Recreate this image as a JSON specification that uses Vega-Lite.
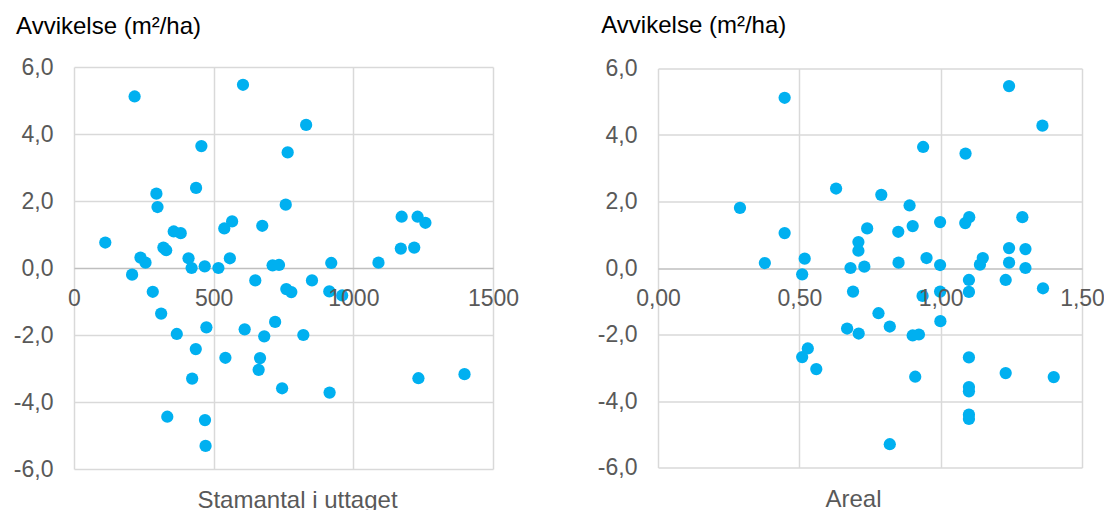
{
  "$schema": "https://vega.github.io/schema/vega-lite/v6.json",
  "padding": {"left": 13, "top": 13, "right": 0, "bottom": 0},
  "bounds": "flush",
  "center": true,
  "spacing": 165,
  "config": {
    "view": {"stroke": null},
    "font": "Liberation Sans",
    "axis": {
      "labelFont": "Liberation Sans",
      "titleFont": "Liberation Sans",
      "labelColor": "#595959",
      "labelFontSize": 23,
      "titleFontSize": 24,
      "titleFontWeight": "normal",
      "gridColor": "#d9d9d9",
      "gridWidth": 1.5,
      "ticks": false,
      "tickSize": 0,
      "domain": false,
      "labelFlush": false,
      "labelOverlap": false
    }
  },
  "datasets": {
    "stam": [
      {"stamantal": 217, "avvikelse": 5.12}, {"stamantal": 605, "avvikelse": 5.47}, {"stamantal": 831, "avvikelse": 4.27},
      {"stamantal": 456, "avvikelse": 3.64}, {"stamantal": 765, "avvikelse": 3.45}, {"stamantal": 437, "avvikelse": 2.39},
      {"stamantal": 295, "avvikelse": 2.22}, {"stamantal": 299, "avvikelse": 1.82}, {"stamantal": 758, "avvikelse": 1.89},
      {"stamantal": 1173, "avvikelse": 1.53}, {"stamantal": 1230, "avvikelse": 1.53}, {"stamantal": 1258, "avvikelse": 1.35},
      {"stamantal": 566, "avvikelse": 1.39}, {"stamantal": 538, "avvikelse": 1.18}, {"stamantal": 674, "avvikelse": 1.26},
      {"stamantal": 357, "avvikelse": 1.09}, {"stamantal": 382, "avvikelse": 1.04}, {"stamantal": 112, "avvikelse": 0.76},
      {"stamantal": 320, "avvikelse": 0.61}, {"stamantal": 330, "avvikelse": 0.53}, {"stamantal": 1170, "avvikelse": 0.58},
      {"stamantal": 1218, "avvikelse": 0.61}, {"stamantal": 238, "avvikelse": 0.31}, {"stamantal": 256, "avvikelse": 0.16},
      {"stamantal": 410, "avvikelse": 0.29}, {"stamantal": 558, "avvikelse": 0.29}, {"stamantal": 421, "avvikelse": 0.0},
      {"stamantal": 468, "avvikelse": 0.05}, {"stamantal": 517, "avvikelse": 0.0}, {"stamantal": 711, "avvikelse": 0.08},
      {"stamantal": 734, "avvikelse": 0.09}, {"stamantal": 921, "avvikelse": 0.15}, {"stamantal": 1090, "avvikelse": 0.16},
      {"stamantal": 208, "avvikelse": -0.2}, {"stamantal": 649, "avvikelse": -0.37}, {"stamantal": 852, "avvikelse": -0.37},
      {"stamantal": 282, "avvikelse": -0.71}, {"stamantal": 760, "avvikelse": -0.63}, {"stamantal": 778, "avvikelse": -0.72},
      {"stamantal": 914, "avvikelse": -0.7}, {"stamantal": 960, "avvikelse": -0.82}, {"stamantal": 312, "avvikelse": -1.36},
      {"stamantal": 368, "avvikelse": -1.97}, {"stamantal": 474, "avvikelse": -1.77}, {"stamantal": 611, "avvikelse": -1.83},
      {"stamantal": 720, "avvikelse": -1.61}, {"stamantal": 681, "avvikelse": -2.04}, {"stamantal": 821, "avvikelse": -2.0},
      {"stamantal": 436, "avvikelse": -2.42}, {"stamantal": 542, "avvikelse": -2.68}, {"stamantal": 666, "avvikelse": -2.69},
      {"stamantal": 661, "avvikelse": -3.04}, {"stamantal": 423, "avvikelse": -3.3}, {"stamantal": 745, "avvikelse": -3.59},
      {"stamantal": 915, "avvikelse": -3.72}, {"stamantal": 1233, "avvikelse": -3.29}, {"stamantal": 1398, "avvikelse": -3.17},
      {"stamantal": 334, "avvikelse": -4.44}, {"stamantal": 469, "avvikelse": -4.54}, {"stamantal": 471, "avvikelse": -5.31}
    ],
    "areal": [
      {"areal": 0.448, "avvikelse": 5.12}, {"areal": 1.242, "avvikelse": 5.47}, {"areal": 1.36, "avvikelse": 4.28},
      {"areal": 0.938, "avvikelse": 3.64}, {"areal": 1.088, "avvikelse": 3.44}, {"areal": 0.63, "avvikelse": 2.39},
      {"areal": 0.79, "avvikelse": 2.2}, {"areal": 0.29, "avvikelse": 1.81}, {"areal": 0.89, "avvikelse": 1.88},
      {"areal": 1.101, "avvikelse": 1.53}, {"areal": 1.087, "avvikelse": 1.35}, {"areal": 1.289, "avvikelse": 1.53},
      {"areal": 0.998, "avvikelse": 1.38}, {"areal": 0.74, "avvikelse": 1.19}, {"areal": 0.901, "avvikelse": 1.26},
      {"areal": 0.85, "avvikelse": 1.09}, {"areal": 0.448, "avvikelse": 1.05}, {"areal": 0.709, "avvikelse": 0.78},
      {"areal": 0.709, "avvikelse": 0.52}, {"areal": 1.242, "avvikelse": 0.6}, {"areal": 1.3, "avvikelse": 0.57},
      {"areal": 0.378, "avvikelse": 0.15}, {"areal": 0.519, "avvikelse": 0.28}, {"areal": 0.95, "avvikelse": 0.3},
      {"areal": 1.149, "avvikelse": 0.3}, {"areal": 1.139, "avvikelse": 0.1}, {"areal": 0.998, "avvikelse": 0.09},
      {"areal": 0.851, "avvikelse": 0.16}, {"areal": 1.242, "avvikelse": 0.16}, {"areal": 0.681, "avvikelse": 0.0},
      {"areal": 0.73, "avvikelse": 0.04}, {"areal": 1.3, "avvikelse": 0.0}, {"areal": 0.51, "avvikelse": -0.19},
      {"areal": 1.1, "avvikelse": -0.36}, {"areal": 1.23, "avvikelse": -0.36}, {"areal": 1.362, "avvikelse": -0.61},
      {"areal": 0.69, "avvikelse": -0.71}, {"areal": 0.936, "avvikelse": -0.84}, {"areal": 0.998, "avvikelse": -0.71},
      {"areal": 1.1, "avvikelse": -0.72}, {"areal": 0.78, "avvikelse": -1.36}, {"areal": 0.82, "avvikelse": -1.76},
      {"areal": 0.669, "avvikelse": -1.82}, {"areal": 0.71, "avvikelse": -1.97}, {"areal": 0.901, "avvikelse": -2.03},
      {"areal": 0.923, "avvikelse": -2.0}, {"areal": 0.999, "avvikelse": -1.6}, {"areal": 0.53, "avvikelse": -2.42},
      {"areal": 0.51, "avvikelse": -2.68}, {"areal": 0.56, "avvikelse": -3.04}, {"areal": 1.1, "avvikelse": -2.69},
      {"areal": 0.91, "avvikelse": -3.27}, {"areal": 1.23, "avvikelse": -3.16}, {"areal": 1.4, "avvikelse": -3.28},
      {"areal": 1.1, "avvikelse": -3.58}, {"areal": 1.1, "avvikelse": -3.71}, {"areal": 1.1, "avvikelse": -4.41},
      {"areal": 1.1, "avvikelse": -4.54}, {"areal": 0.82, "avvikelse": -5.3}
    ]
  },
  "hconcat": [
    {
      "width": 419,
      "height": 402,
      "data": {"name": "stam"},
      "layer": [
        {
          "mark": {"type": "point", "filled": true, "size": 150, "color": "#00B0F0", "opacity": 1},
          "encoding": {
            "x": {
              "field": "stamantal", "type": "quantitative",
              "scale": {"domain": [0, 1500], "nice": false, "zero": false},
              "axis": {"orient": "bottom", "values": [0, 500, 1000, 1500], "grid": true, "labels": false, "domain": false, "title": null, "zindex": 0}
            },
            "y": {
              "field": "avvikelse", "type": "quantitative",
              "scale": {"domain": [-6, 6], "nice": false},
              "axis": {
                "values": [-6, -4, -2, 0, 2, 4, 6],
                "grid": true,
                "gridColor": {"condition": {"test": "datum.value === 0", "value": "#bfbfbf"}, "value": "#d9d9d9"},
                "labelExpr": "(datum.value < 0 ? '-' : '') + replace(format(abs(datum.value), '.1f'), '.', ',')",
                "labelPadding": 21,
                "title": "Avvikelse (m²/ha)",
                "titleAngle": 0,
                "titleAlign": "left",
                "titleBaseline": "alphabetic",
                "titleX": -58.4,
                "titleY": -34,
                "titleColor": "#000000",
                "zindex": 0
              }
            }
          }
        },
        {
          "mark": {"type": "point", "filled": true, "size": 150, "opacity": 0},
          "encoding": {
            "x": {
              "field": "stamantal", "type": "quantitative",
              "axis": {
                "orient": "bottom", "offset": -201, "values": [0, 500, 1000, 1500], "grid": false,
                "format": "d", "labelPadding": 19, "labelBaseline": "top",
                "title": "Stamantal i uttaget", "titleX": 223, "titleY": 239,
                "titleAlign": "center", "titleBaseline": "alphabetic", "titleColor": "#595959", "zindex": 1
              }
            },
            "y": {"field": "avvikelse", "type": "quantitative"}
          }
        }
      ],
      "resolve": {"axis": {"x": "independent", "y": "shared"}}
    },
    {
      "width": 424,
      "height": 399,
      "data": {"name": "areal"},
      "layer": [
        {
          "mark": {"type": "point", "filled": true, "size": 150, "color": "#00B0F0", "opacity": 1},
          "encoding": {
            "x": {
              "field": "areal", "type": "quantitative",
              "scale": {"domain": [0, 1.5], "nice": false, "zero": false},
              "axis": {"orient": "bottom", "values": [0, 0.5, 1, 1.5], "grid": true, "labels": false, "domain": false, "title": null, "zindex": 0}
            },
            "y": {
              "field": "avvikelse", "type": "quantitative",
              "scale": {"domain": [-6, 6], "nice": false},
              "axis": {
                "values": [-6, -4, -2, 0, 2, 4, 6],
                "grid": true,
                "gridColor": {"condition": {"test": "datum.value === 0", "value": "#bfbfbf"}, "value": "#d9d9d9"},
                "labelExpr": "(datum.value < 0 ? '-' : '') + replace(format(abs(datum.value), '.1f'), '.', ',')",
                "labelPadding": 21,
                "title": "Avvikelse (m²/ha)",
                "titleAngle": 0,
                "titleAlign": "left",
                "titleBaseline": "alphabetic",
                "titleX": -57.2,
                "titleY": -36,
                "titleColor": "#000000",
                "zindex": 0
              }
            }
          }
        },
        {
          "mark": {"type": "point", "filled": true, "size": 150, "opacity": 0},
          "encoding": {
            "x": {
              "field": "areal", "type": "quantitative",
              "axis": {
                "orient": "bottom", "offset": -199.5, "values": [0, 0.5, 1, 1.5], "grid": false,
                "labelExpr": "replace(format(datum.value, '.2f'), '.', ',')",
                "labelPadding": 19, "labelBaseline": "top",
                "title": "Areal", "titleX": 195, "titleY": 238.5,
                "titleAlign": "center", "titleBaseline": "alphabetic", "titleColor": "#595959", "zindex": 1
              }
            },
            "y": {"field": "avvikelse", "type": "quantitative"}
          }
        }
      ],
      "resolve": {"axis": {"x": "independent", "y": "shared"}}
    }
  ]
}
